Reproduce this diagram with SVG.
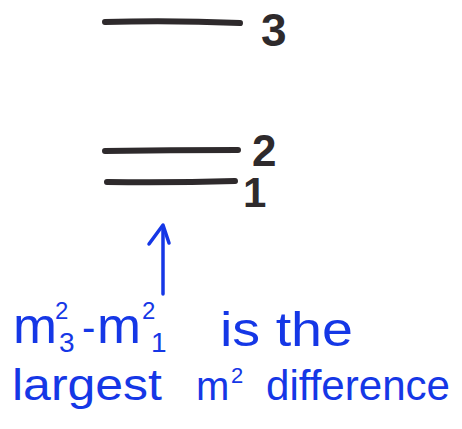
<svg xmlns="http://www.w3.org/2000/svg" width="462" height="429" viewBox="0 0 462 429">
<style>
.lvl{stroke:#2e2a2c;stroke-width:6;stroke-linecap:round;fill:none}
.num{font-family:"Liberation Sans",Arial,sans-serif;font-weight:bold;fill:#2e2a2c}
.bl{font-family:"Liberation Sans",Arial,sans-serif;fill:#1537e6}
.arr{stroke:#1537e6;stroke-width:3.5;stroke-linecap:round;stroke-linejoin:round;fill:none}
</style>
<rect width="462" height="429" fill="#ffffff"/>
<g id="level3">
<path class="lvl" d="M105,22 Q170,20 240,23"/>
<text class="num" x="261" y="46" font-size="46">3</text>
</g>
<g id="level2">
<path class="lvl" d="M105,151 Q170,150 238,150"/>
<text class="num" x="252" y="166" font-size="44">2</text>
</g>
<g id="level1">
<path class="lvl" d="M107,182 Q170,183 235,181"/>
<text class="num" x="243" y="207" font-size="42">1</text>
</g>
<g id="connectors">
<path class="arr" d="M163,294 L163,227"/>
<path class="arr" d="M149,244 L163,225 L169,243"/>
</g>
<g id="label">
<text class="bl" x="13" y="343" font-size="50"><tspan textLength="44" lengthAdjust="spacingAndGlyphs">m</tspan><tspan x="55" y="319" font-size="24">2</tspan><tspan x="59" y="352" font-size="28">3</tspan><tspan x="82" y="341" font-size="40">-</tspan><tspan x="97" y="343" textLength="44" lengthAdjust="spacingAndGlyphs">m</tspan><tspan x="142" y="319" font-size="24">2</tspan><tspan x="151" y="352" font-size="28">1</tspan></text>
<text class="bl" x="220" y="346" font-size="48" textLength="133" lengthAdjust="spacingAndGlyphs">is the</text>
<text class="bl" x="12" y="400" font-size="44" textLength="150" lengthAdjust="spacingAndGlyphs">largest</text>
<text class="bl" x="196" y="400" font-size="40">m<tspan x="231" y="383" font-size="22">2</tspan></text>
<text class="bl" x="266" y="400" font-size="42" textLength="184" lengthAdjust="spacingAndGlyphs">difference</text>
</g>
</svg>
